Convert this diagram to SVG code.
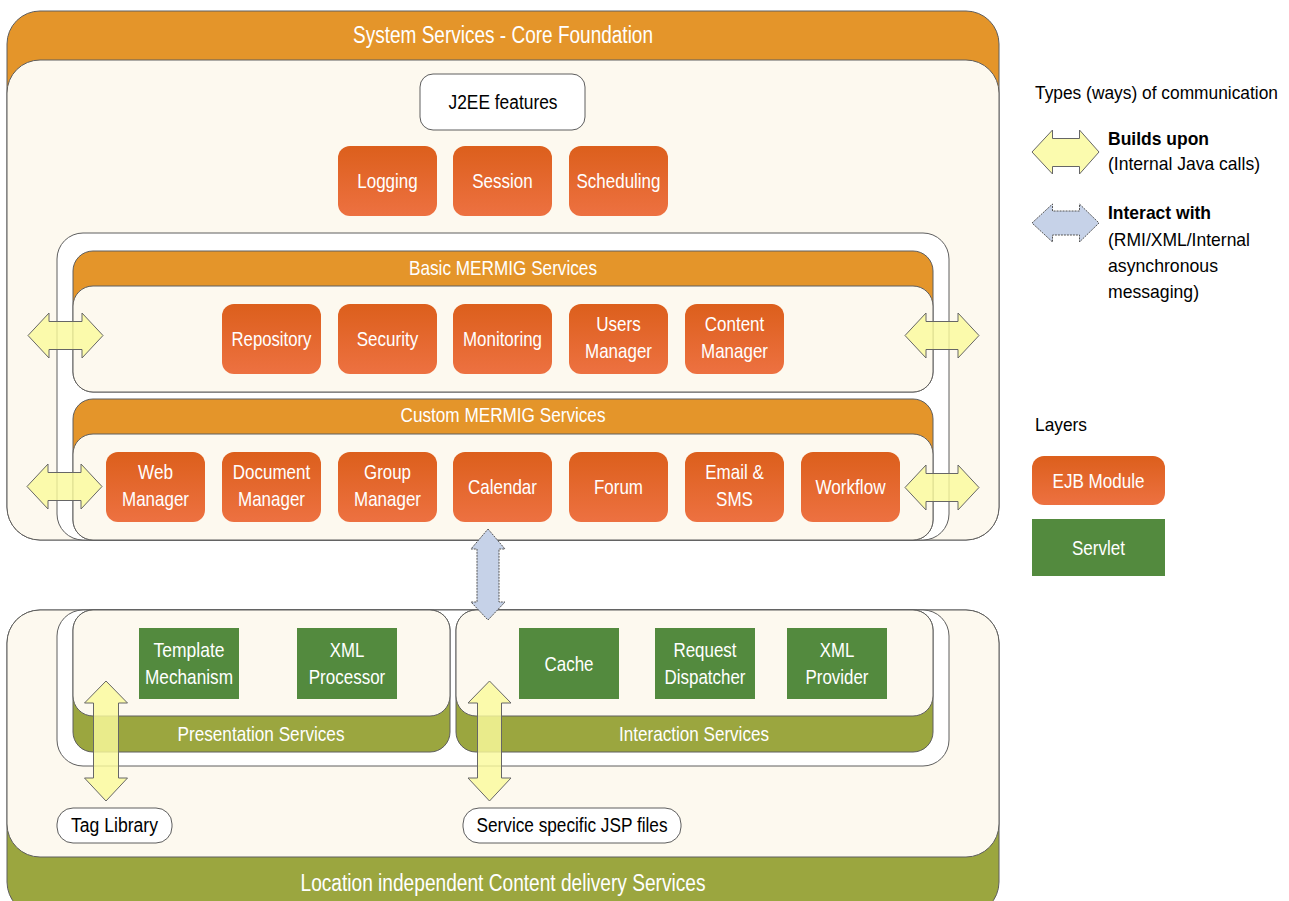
<svg xmlns="http://www.w3.org/2000/svg" width="1289" height="901" viewBox="0 0 1289 901">
<defs>
<linearGradient id="ejb" x1="0" y1="0" x2="0" y2="1">
<stop offset="0" stop-color="#DC5F1C"/>
<stop offset="1" stop-color="#ED7141"/>
</linearGradient>
<style>
text{font-family:"Liberation Sans",Arial,sans-serif;}
.w{fill:#fff;text-anchor:middle;}
.k{fill:#000;text-anchor:middle;}
.l{fill:#000;text-anchor:start;}
.b{font-weight:bold;}
.hdr{fill:#E4952A;stroke:#5E5E5E;stroke-width:1;}
.cream{fill:#FDF9EF;stroke:#5E5E5E;stroke-width:1;}
.olive{fill:#9BA63F;stroke:#5E5E5E;stroke-width:1;}
.frame{fill:#fff;stroke:#5E5E5E;stroke-width:1;}
.ejb{fill:url(#ejb);}
.srv{fill:#538A3E;}
.pill{fill:#fff;stroke:#5E5E5E;stroke-width:1;}
.ya{fill:#FAFA9C;fill-opacity:0.82;stroke:#666;stroke-width:1;}
.ba{fill:#C6D2E8;stroke:#555;stroke-width:1;stroke-dasharray:2 1;}
</style>
</defs>

<!-- System Services container -->
<g id="system-services">
<rect class="hdr" x="7" y="11" width="992" height="529" rx="33" ry="33"/>
<rect class="cream" x="7" y="60" width="992" height="480" rx="33" ry="33"/>
<text class="w" x="503" y="43" font-size="23" textLength="300" lengthAdjust="spacingAndGlyphs">System Services - Core Foundation</text>
</g>

<g id="j2ee-features">
<rect class="pill" x="420" y="74" width="165" height="56" rx="13" ry="13"/>
<text class="k" x="503" y="109" font-size="19.5" textLength="109" lengthAdjust="spacingAndGlyphs">J2EE features</text>
</g>

<g id="mermig-frame">
<rect class="frame" x="57" y="233" width="892" height="307" rx="26" ry="26"/>
</g>

<g id="basic-mermig">
<rect class="hdr" x="73" y="251" width="860" height="141" rx="20" ry="20"/>
<rect class="cream" x="73" y="286" width="860" height="106" rx="20" ry="20"/>
<text class="w" x="503" y="275" font-size="21" textLength="188" lengthAdjust="spacingAndGlyphs">Basic MERMIG Services</text>
</g>

<g id="custom-mermig">
<rect class="hdr" x="73" y="399" width="860" height="141" rx="20" ry="20"/>
<rect class="cream" x="73" y="434" width="860" height="106" rx="20" ry="20"/>
<text class="w" x="503" y="422" font-size="21" textLength="205" lengthAdjust="spacingAndGlyphs">Custom MERMIG Services</text>
</g>

<!-- EJB modules row 1 -->
<g id="logging"><rect class="ejb" x="338" y="146" width="99" height="70" rx="12"/>
<text class="w" x="387.5" y="188" font-size="21" textLength="60.5" lengthAdjust="spacingAndGlyphs">Logging</text></g>
<g id="session"><rect class="ejb" x="453" y="146" width="99" height="70" rx="12"/>
<text class="w" x="502.5" y="188" font-size="21" textLength="60.5" lengthAdjust="spacingAndGlyphs">Session</text></g>
<g id="scheduling"><rect class="ejb" x="569" y="146" width="99" height="70" rx="12"/>
<text class="w" x="618.5" y="188" font-size="21" textLength="84" lengthAdjust="spacingAndGlyphs">Scheduling</text></g>

<!-- EJB modules row 2 -->
<g id="repository"><rect class="ejb" x="222" y="304" width="99" height="70" rx="12"/>
<text class="w" x="271.5" y="346" font-size="21" textLength="80" lengthAdjust="spacingAndGlyphs">Repository</text></g>
<g id="security"><rect class="ejb" x="338" y="304" width="99" height="70" rx="12"/>
<text class="w" x="387.5" y="346" font-size="21" textLength="61.5" lengthAdjust="spacingAndGlyphs">Security</text></g>
<g id="monitoring"><rect class="ejb" x="453" y="304" width="99" height="70" rx="12"/>
<text class="w" x="502.5" y="346" font-size="21" textLength="79" lengthAdjust="spacingAndGlyphs">Monitoring</text></g>
<g id="users-manager"><rect class="ejb" x="569" y="304" width="99" height="70" rx="12"/>
<text class="w" x="618.5" y="331" font-size="21" textLength="44.5" lengthAdjust="spacingAndGlyphs">Users</text>
<text class="w" x="618.5" y="358" font-size="21" textLength="67" lengthAdjust="spacingAndGlyphs">Manager</text></g>
<g id="content-manager"><rect class="ejb" x="685" y="304" width="99" height="70" rx="12"/>
<text class="w" x="734.5" y="331" font-size="21" textLength="59.5" lengthAdjust="spacingAndGlyphs">Content</text>
<text class="w" x="734.5" y="358" font-size="21" textLength="67" lengthAdjust="spacingAndGlyphs">Manager</text></g>

<!-- EJB modules row 3 -->
<g id="web-manager"><rect class="ejb" x="106" y="452" width="99" height="70" rx="12"/>
<text class="w" x="155.5" y="479" font-size="21" textLength="35" lengthAdjust="spacingAndGlyphs">Web</text>
<text class="w" x="155.5" y="506" font-size="21" textLength="67" lengthAdjust="spacingAndGlyphs">Manager</text></g>
<g id="document-manager"><rect class="ejb" x="222" y="452" width="99" height="70" rx="12"/>
<text class="w" x="271.5" y="479" font-size="21" textLength="77.5" lengthAdjust="spacingAndGlyphs">Document</text>
<text class="w" x="271.5" y="506" font-size="21" textLength="67" lengthAdjust="spacingAndGlyphs">Manager</text></g>
<g id="group-manager"><rect class="ejb" x="338" y="452" width="99" height="70" rx="12"/>
<text class="w" x="387.5" y="479" font-size="21" textLength="47" lengthAdjust="spacingAndGlyphs">Group</text>
<text class="w" x="387.5" y="506" font-size="21" textLength="67" lengthAdjust="spacingAndGlyphs">Manager</text></g>
<g id="calendar"><rect class="ejb" x="453" y="452" width="99" height="70" rx="12"/>
<text class="w" x="502.5" y="494" font-size="21" textLength="69" lengthAdjust="spacingAndGlyphs">Calendar</text></g>
<g id="forum"><rect class="ejb" x="569" y="452" width="99" height="70" rx="12"/>
<text class="w" x="618.5" y="494" font-size="21" textLength="49" lengthAdjust="spacingAndGlyphs">Forum</text></g>
<g id="email-sms"><rect class="ejb" x="685" y="452" width="99" height="70" rx="12"/>
<text class="w" x="734.5" y="479" font-size="21" textLength="58.5" lengthAdjust="spacingAndGlyphs">Email &amp;</text>
<text class="w" x="734.5" y="506" font-size="21" textLength="37" lengthAdjust="spacingAndGlyphs">SMS</text></g>
<g id="workflow"><rect class="ejb" x="801" y="452" width="99" height="70" rx="12"/>
<text class="w" x="850.5" y="494" font-size="21" textLength="70" lengthAdjust="spacingAndGlyphs">Workflow</text></g>

<!-- Content delivery container -->
<g id="content-delivery">
<rect class="olive" x="7" y="610" width="992" height="305" rx="33" ry="33"/>
<rect class="cream" x="7" y="610" width="992" height="247" rx="33" ry="33"/>
<text class="w" x="503" y="891" font-size="23.5" textLength="405" lengthAdjust="spacingAndGlyphs">Location independent Content delivery Services</text>
</g>

<g id="servlet-frame">
<rect class="frame" x="57" y="610" width="892" height="156" rx="26" ry="26"/>
</g>

<g id="presentation-services">
<rect class="olive" x="73" y="610" width="377" height="142" rx="20" ry="20"/>
<rect class="cream" x="73" y="610" width="377" height="106" rx="20" ry="20"/>
<text class="w" x="261" y="741" font-size="21" textLength="167" lengthAdjust="spacingAndGlyphs">Presentation Services</text>
</g>

<g id="interaction-services">
<rect class="olive" x="456" y="610" width="477" height="142" rx="20" ry="20"/>
<rect class="cream" x="456" y="610" width="477" height="106" rx="20" ry="20"/>
<text class="w" x="694" y="741" font-size="21" textLength="150" lengthAdjust="spacingAndGlyphs">Interaction Services</text>
</g>

<g id="template-mechanism"><rect class="srv" x="139" y="628" width="100" height="71"/>
<text class="w" x="189" y="656.5" font-size="21" textLength="71" lengthAdjust="spacingAndGlyphs">Template</text>
<text class="w" x="189" y="684" font-size="21" textLength="88" lengthAdjust="spacingAndGlyphs">Mechanism</text></g>
<g id="xml-processor"><rect class="srv" x="297" y="628" width="100" height="71"/>
<text class="w" x="347" y="656.5" font-size="21" textLength="34.5" lengthAdjust="spacingAndGlyphs">XML</text>
<text class="w" x="347" y="684" font-size="21" textLength="76.5" lengthAdjust="spacingAndGlyphs">Processor</text></g>
<g id="cache"><rect class="srv" x="519" y="628" width="100" height="71"/>
<text class="w" x="569" y="671" font-size="21" textLength="49" lengthAdjust="spacingAndGlyphs">Cache</text></g>
<g id="request-dispatcher"><rect class="srv" x="655" y="628" width="100" height="71"/>
<text class="w" x="705" y="656.5" font-size="21" textLength="63" lengthAdjust="spacingAndGlyphs">Request</text>
<text class="w" x="705" y="684" font-size="21" textLength="81" lengthAdjust="spacingAndGlyphs">Dispatcher</text></g>
<g id="xml-provider"><rect class="srv" x="787" y="628" width="100" height="71"/>
<text class="w" x="837" y="656.5" font-size="21" textLength="34.5" lengthAdjust="spacingAndGlyphs">XML</text>
<text class="w" x="837" y="684" font-size="21" textLength="63" lengthAdjust="spacingAndGlyphs">Provider</text></g>

<g id="tag-library"><rect class="pill" x="57" y="808" width="115" height="35" rx="16"/>
<text class="k" x="114.5" y="832" font-size="19.5" textLength="87" lengthAdjust="spacingAndGlyphs">Tag Library</text></g>
<g id="jsp-files"><rect class="pill" x="463" y="808" width="218" height="35" rx="16"/>
<text class="k" x="572" y="832" font-size="19.5" textLength="191" lengthAdjust="spacingAndGlyphs">Service specific JSP files</text></g>

<!-- Connectors -->
<g id="connectors">
<polygon class="ya" points="28,335.5 49,313 49,321.5 82,321.5 82,313 103,335.5 82,358 82,349.5 49,349.5 49,358"/>
<polygon class="ya" points="27,486.5 48,464 48,472.5 81,472.5 81,464 102,486.5 81,509 81,500.5 48,500.5 48,509"/>
<polygon class="ya" points="905,335.5 926,313 926,321.5 958,321.5 958,313 979,335.5 958,358 958,349.5 926,349.5 926,358"/>
<polygon class="ya" points="905,487.5 926,465 926,473.5 958,473.5 958,465 979,487.5 958,510 958,501.5 926,501.5 926,510"/>
<polygon class="ba" points="488,529 505,549 499,549 499,602 505,602 488,620 471,602 477,602 477,549 471,549"/>
<polygon class="ya" points="106,681 127.5,703 118.5,703 118.5,778 127.5,778 106,801 84.5,778 93.5,778 93.5,703 84.5,703"/>
<polygon class="ya" points="489.5,681 511,703 501.5,703 501.5,778 511,778 489.5,801 468,778 477.5,778 477.5,703 468,703"/>
</g>

<!-- Legend -->
<g id="legend">
<text class="l" x="1035" y="99" font-size="17.5" textLength="243" lengthAdjust="spacingAndGlyphs">Types (ways) of communication</text>
<polygon class="ya" points="1032,152 1052.5,130 1052.5,138.5 1079.5,138.5 1079.5,130 1099,152 1079.5,174 1079.5,166.5 1052.5,166.5 1052.5,174"/>
<text class="l b" x="1108" y="145" font-size="19" textLength="101" lengthAdjust="spacingAndGlyphs">Builds upon</text>
<text class="l" x="1108" y="170" font-size="19" textLength="152" lengthAdjust="spacingAndGlyphs">(Internal Java calls)</text>
<polygon class="ba" points="1032,223 1052.5,204 1052.5,211 1079.5,211 1079.5,204 1099,223 1079.5,242 1079.5,235 1052.5,235 1052.5,242"/>
<text class="l b" x="1108" y="219" font-size="19" textLength="103" lengthAdjust="spacingAndGlyphs">Interact with</text>
<text class="l" x="1108" y="246" font-size="19" textLength="142" lengthAdjust="spacingAndGlyphs">(RMI/XML/Internal</text>
<text class="l" x="1108" y="272" font-size="19" textLength="110" lengthAdjust="spacingAndGlyphs">asynchronous</text>
<text class="l" x="1108" y="298" font-size="19" textLength="91" lengthAdjust="spacingAndGlyphs">messaging)</text>
<text class="l" x="1035" y="431" font-size="19" textLength="52" lengthAdjust="spacingAndGlyphs">Layers</text>
<g id="legend-ejb"><rect class="ejb" x="1032" y="456" width="133" height="49" rx="12"/>
<text class="w" x="1098.5" y="488" font-size="21" textLength="92" lengthAdjust="spacingAndGlyphs">EJB Module</text></g>
<g id="legend-servlet"><rect class="srv" x="1032" y="519" width="133" height="57"/>
<text class="w" x="1098.5" y="555" font-size="21" textLength="53" lengthAdjust="spacingAndGlyphs">Servlet</text></g>
</g>
</svg>
